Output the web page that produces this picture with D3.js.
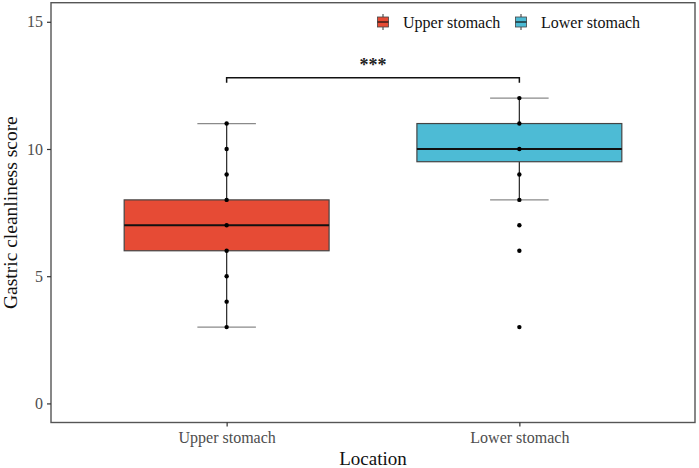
<!DOCTYPE html>
<html>
<head>
<meta charset="utf-8">
<script src="https://cdn.jsdelivr.net/npm/d3@7"></script>
<style>
  body { margin: 0; background: #fff; }
  text { font-family: "Liberation Serif", "Times New Roman", serif; }
</style>
</head>
<body>
<svg id="chart" width="699" height="468"></svg>
<script>
const groups = ["Upper stomach", "Lower stomach"];
const colors = ["#E64B35", "#4DBBD5"];
// box stats: [lowerWhisker, q1, median, q3, upperWhisker]
const stats = [
  [3, 6, 7, 8, 11],
  [8, 9.5, 10, 11, 12],
];
const points = [
  [3, 4, 5, 6, 7, 8, 9, 10, 11],
  [3, 6, 7, 8, 9, 10, 11, 12],
];
const yTicks = [0, 5, 10, 15];
const sigLabel = "***";
const sigY = 12.8;

const MARGINS = { top: 2.7, right: 4, bottom: 45.5, left: 51 };
const width = 699;
const height = 468;

const svg = d3.select("#chart");

const x = d3
  .scaleLinear()
  .domain([0.4, 2.6])
  .range([MARGINS.left, width - MARGINS.right]);

const y = d3
  .scaleLinear()
  .domain([-0.75, 15.75])
  .range([height - MARGINS.bottom, MARGINS.top]);

const boxHalf = 0.35;
const capHalf = 0.1;

const g = svg.append("g");

groups.forEach((name, i) => {
  const cx = x(i + 1);
  const [lo, q1, med, q3, hi] = stats[i];

  // whisker caps
  g.selectAll(null)
    .data([lo, hi])
    .join("line")
    .attr("x1", x(i + 1 - capHalf))
    .attr("x2", x(i + 1 + capHalf))
    .attr("y1", (d) => y(d))
    .attr("y2", (d) => y(d))
    .attr("stroke", "#8a8a8a")
    .attr("stroke-width", 1.3);

  // whisker stems
  g.selectAll(null)
    .data([[lo, q1], [q3, hi]])
    .join("line")
    .attr("x1", cx)
    .attr("x2", cx)
    .attr("y1", (d) => y(d[0]))
    .attr("y2", (d) => y(d[1]))
    .attr("stroke", "#333")
    .attr("stroke-width", 1.3);

  g.append("rect")
    .attr("x", x(i + 1 - boxHalf))
    .attr("width", x(i + 1 + boxHalf) - x(i + 1 - boxHalf))
    .attr("y", y(q3))
    .attr("height", y(q1) - y(q3))
    .attr("fill", colors[i])
    .attr("stroke", "#444")
    .attr("stroke-width", 1.2);

  g.append("line")
    .attr("x1", x(i + 1 - boxHalf))
    .attr("x2", x(i + 1 + boxHalf))
    .attr("y1", y(med))
    .attr("y2", y(med))
    .attr("stroke", "#111")
    .attr("stroke-width", 2);

  g.selectAll(null)
    .data(points[i])
    .join("circle")
    .attr("cx", cx)
    .attr("cy", (d) => y(d))
    .attr("r", 2.2)
    .attr("fill", "#000");
});

// significance bracket
const bracket = svg.append("g");
bracket
  .append("path")
  .attr(
    "d",
    `M ${x(1)},${y(sigY - 0.2)} L ${x(1)},${y(sigY)} L ${x(2)},${y(sigY)} L ${x(2)},${y(sigY - 0.2)}`
  )
  .attr("fill", "none")
  .attr("stroke", "#111")
  .attr("stroke-width", 1.5);

bracket
  .append("text")
  .attr("x", (x(1) + x(2)) / 2)
  .attr("y", y(sigY) - 7)
  .attr("text-anchor", "middle")
  .attr("font-size", 18)
  .attr("font-weight", "bold")
  .attr("fill", "#222")
  .text(sigLabel);

// panel border
svg
  .append("rect")
  .attr("x", MARGINS.left)
  .attr("y", MARGINS.top)
  .attr("width", width - MARGINS.right - MARGINS.left)
  .attr("height", height - MARGINS.bottom - MARGINS.top)
  .attr("fill", "none")
  .attr("stroke", "#555")
  .attr("stroke-width", 1.4);

// y axis
const yAxis = svg
  .append("g")
  .attr("transform", `translate(${MARGINS.left},0)`)
  .call(d3.axisLeft(y).tickValues(yTicks).tickSize(4).tickPadding(4));
yAxis.select(".domain").remove();
yAxis.selectAll(".tick line").attr("stroke", "#333").attr("stroke-width", 1.2);
yAxis
  .selectAll(".tick text")
  .attr("font-family", "Liberation Serif")
  .attr("font-size", 16)
  .attr("fill", "#4d4d4d");

// x axis
const xBand = d3
  .scalePoint()
  .domain(groups)
  .range([x(1), x(2)]);
const xAxis = svg
  .append("g")
  .attr("transform", `translate(0,${height - MARGINS.bottom})`)
  .call(d3.axisBottom(xBand).tickSize(4).tickPadding(5));
xAxis.select(".domain").remove();
xAxis.selectAll(".tick line").attr("stroke", "#333").attr("stroke-width", 1.2);
xAxis
  .selectAll(".tick text")
  .attr("font-family", "Liberation Serif")
  .attr("font-size", 16)
  .attr("fill", "#4d4d4d");

// axis titles
svg
  .append("text")
  .attr("x", (MARGINS.left + width - MARGINS.right) / 2)
  .attr("y", 465)
  .attr("text-anchor", "middle")
  .attr("font-size", 19)
  .attr("fill", "#111")
  .text("Location");

svg
  .append("text")
  .attr("transform", `translate(17,${(MARGINS.top + height - MARGINS.bottom) / 2}) rotate(-90)`)
  .attr("text-anchor", "middle")
  .attr("font-size", 19.5)
  .attr("fill", "#111")
  .text("Gastric cleanliness score");

// legend
const legendX = [383, 521];
const legend = svg
  .append("g")
  .selectAll("g")
  .data(groups)
  .join("g")
  .attr("transform", (d, i) => `translate(${legendX[i]},22)`);

legend
  .append("line")
  .attr("y1", -8)
  .attr("y2", 8)
  .attr("stroke", "#333")
  .attr("stroke-width", 1);
legend
  .append("rect")
  .attr("x", -5.5)
  .attr("y", -5)
  .attr("width", 11)
  .attr("height", 10)
  .attr("fill", (d, i) => colors[i])
  .attr("stroke", "#444")
  .attr("stroke-width", 0.8);
legend
  .append("line")
  .attr("x1", -5.5)
  .attr("x2", 5.5)
  .attr("stroke", "#111")
  .attr("stroke-width", 1.2);
legend
  .append("text")
  .attr("x", 20)
  .attr("y", 5.5)
  .attr("font-size", 16)
  .attr("fill", "#111")
  .text((d) => d);
</script>
</body>
</html>
